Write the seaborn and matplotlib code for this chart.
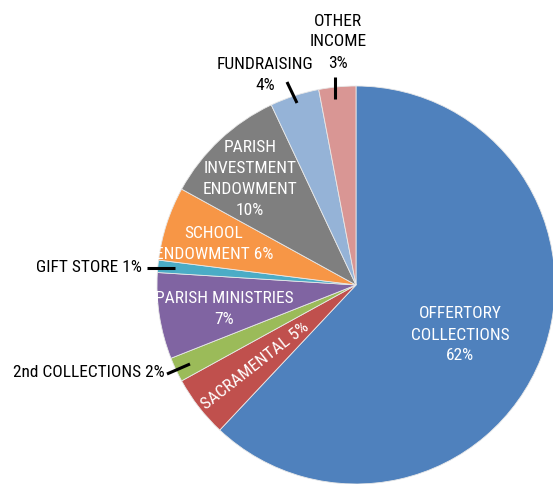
import matplotlib
matplotlib.use('agg')
import matplotlib.pyplot as plt
from matplotlib import font_manager
import seaborn as sns

# income share by source, clockwise from 12 o'clock
sources = ["OFFERTORY COLLECTIONS", "SACRAMENTAL", "2nd COLLECTIONS", "PARISH MINISTRIES",
           "GIFT STORE", "SCHOOL ENDOWMENT", "PARISH INVESTMENT ENDOWMENT", "FUNDRAISING", "OTHER INCOME"]
shares = [62, 5, 2, 7, 1, 6, 10, 4, 3]
colors = ["#4F81BD", "#C0504D", "#9BBB59", "#8064A2", "#4BACC6",
          "#F79646", "#7F7F7F", "#95B3D7", "#D99694"]

W, H = 553, 485

sns.set_theme(style="white")
# narrowest installed family first
names = set(f.name for f in font_manager.fontManager.ttflist)
narrow = [n for n in ['Liberation Sans Narrow', 'Roboto Condensed', 'Open Sans Condensed',
                      'DejaVu Sans Condensed'] if n in names]
plt.rcParams['font.family'] = narrow + ['DejaVu Sans']
fsize = 12.5 if narrow else 10.5

fig = plt.figure(figsize=(W / 100, H / 100), dpi=100)
ax = fig.add_axes([0, 0, 1, 1])

ax.pie(shares, colors=sns.color_palette(colors), startangle=90, counterclock=False,
       center=(356, H - 286), radius=199,
       wedgeprops=dict(edgecolor='#e8e8e8', linewidth=0.6))

# pie() resets the limits, so set them afterwards (data units = pixels)
ax.set_xlim(0, W)
ax.set_ylim(0, H)
ax.set_aspect('equal')
ax.axis('off')


def put(x, y, s, color='black', ha='center', rot=0):
    ax.text(x, H - y, s, color=color, ha=ha, va='center', fontsize=fsize,
            fontstretch='condensed', linespacing=1.5, rotation=rot, rotation_mode='anchor')


def leader(x0, y0, x1, y1):
    ax.plot([x0, x1], [H - y0, H - y1], color='black', lw=2.2, solid_capstyle='butt')


put(460, 335, "OFFERTORY\nCOLLECTIONS\n62%", color='white')
put(255, 366, "SACRAMENTAL 5%", color='white', rot=38)
put(165, 373, "2nd COLLECTIONS 2%", ha='right')
leader(167, 375, 190, 365)
put(224, 309, "PARISH MINISTRIES\n7%", color='white')
put(142, 268, "GIFT STORE 1%", ha='right')
leader(147, 269, 175, 269)
put(214, 244, "SCHOOL\nENDOWMENT 6%", color='white')
put(250, 179, "PARISH\nINVESTMENT\nENDOWMENT\n10%", color='white')
put(265, 75, "FUNDRAISING\n4%")
leader(287, 83, 297, 104)
put(338, 42, "OTHER\nINCOME\n3%")
leader(335, 78, 335, 100)

fig.savefig("out.png", dpi=100)
